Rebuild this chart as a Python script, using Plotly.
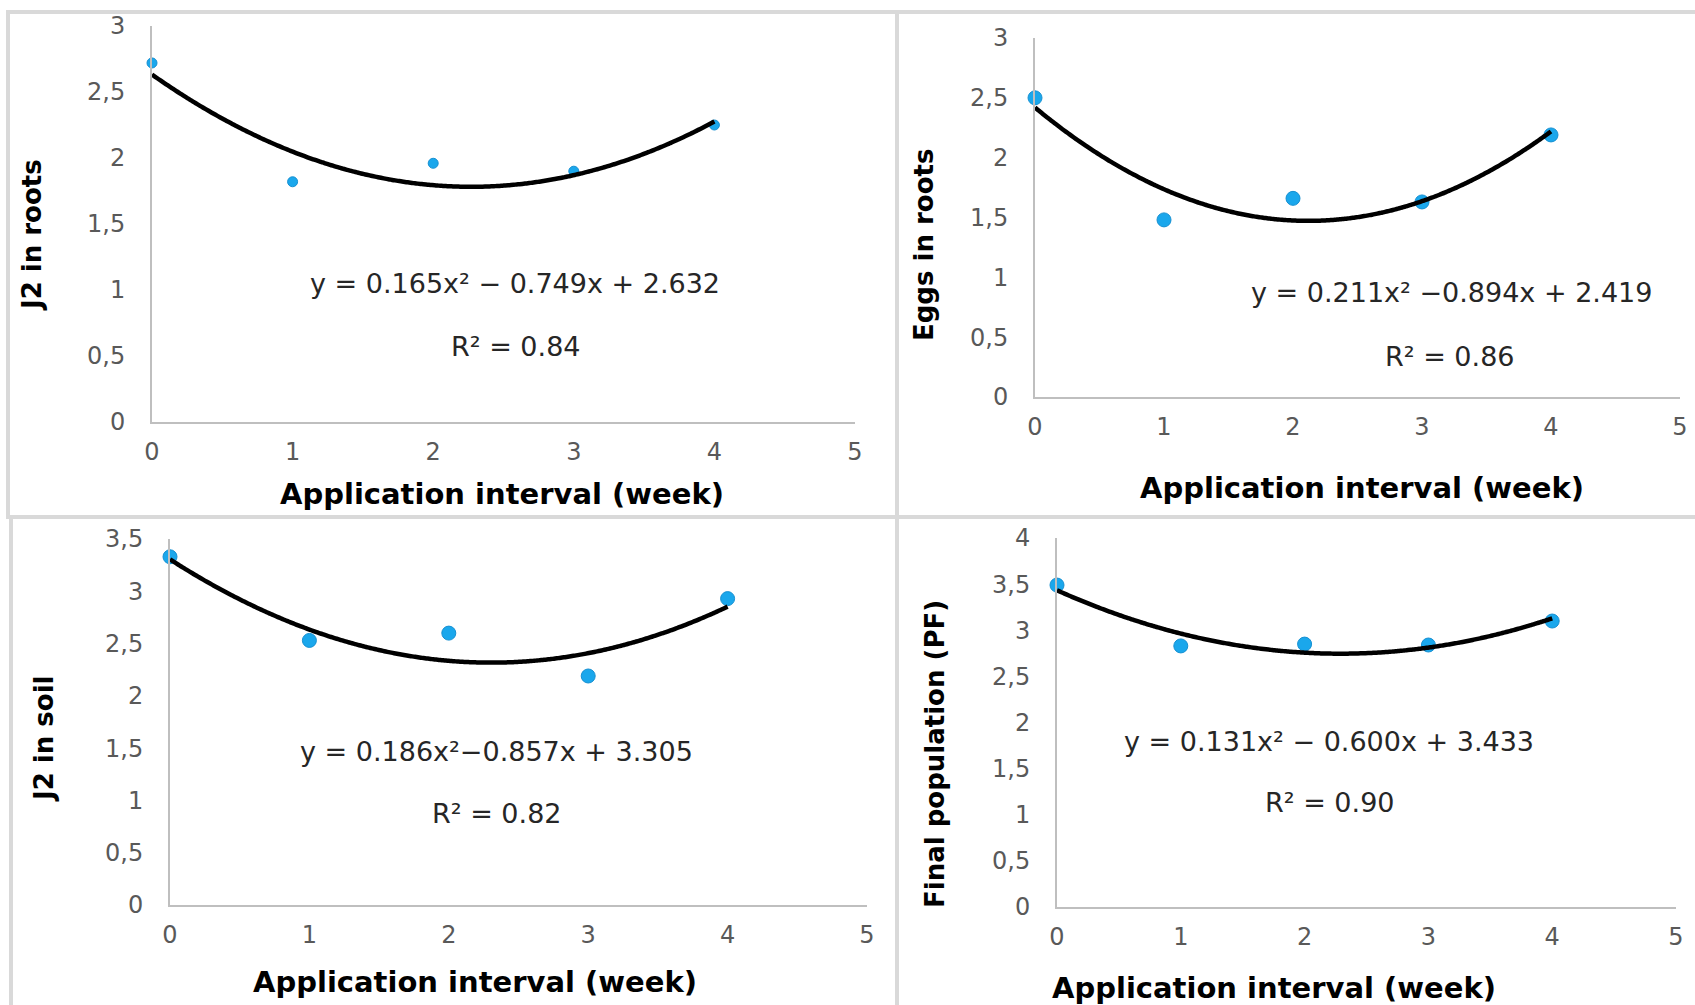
import numpy as np
import plotly.graph_objects as go

# ---------------- data ----------------
weeks = [0, 1, 2, 3, 4]
j2_roots = [2.72, 1.82, 1.96, 1.90, 2.25]
eggs_roots = [2.50, 1.48, 1.66, 1.63, 2.19]
j2_soil = [3.33, 2.53, 2.60, 2.19, 2.93]
final_pop = [3.49, 2.83, 2.85, 2.84, 3.10]

# quadratic trend coefficients (a, b, c) as printed on the chart
fit_j2_roots = [0.165, -0.749, 2.632]
fit_eggs_roots = [0.211, -0.894, 2.419]
fit_j2_soil = [0.186, -0.857, 3.305]
fit_final_pop = [0.131, -0.600, 3.433]

y_titles = ["J2 in roots", "Eggs in roots", "J2 in soil", "Final population (PF)"]
x_title = "Application interval (week)"
equations = [
    "y = 0.165x² − 0.749x + 2.632",
    "y = 0.211x² −0.894x + 2.419",
    "y = 0.186x²−0.857x + 3.305",
    "y = 0.131x² − 0.600x + 3.433",
]
r2_labels = ["R² = 0.84", "R² = 0.86", "R² = 0.82", "R² = 0.90"]
y_max = [3, 3, 3.5, 4]

# ---------------- layout geometry (pixels) ----------------
W, H = 1695, 1005
# plot areas: (x_left, x_right, y_top, y_bottom)
areas = [
    (152, 855, 26, 422),
    (1035, 1680, 38, 397),
    (170, 867, 539, 905),
    (1057, 1676, 538, 907),
]
marker_sizes = [10, 14, 14, 14]
eq_pos = [(515, 283), (1451, 293), (497, 751), (1329, 741)]
r2_pos = [(516, 346), (1450, 356), (497, 813), (1330, 802)]
ytitle_pos = [(32, 235), (924, 245), (44, 739), (935, 754)]
xtitle_pos = [(502, 494), (1362, 488), (475, 982), (1274, 988)]

def px(x):
    return x / W

def py(y):
    return 1 - y / H

series = [j2_roots, eggs_roots, j2_soil, final_pop]
fits = [fit_j2_roots, fit_eggs_roots, fit_j2_soil, fit_final_pop]

fig = go.Figure()
FONT = "DejaVu Sans"
annotations = []
layout_axes = {}

for i in range(4):
    xa = "x" if i == 0 else f"x{i+1}"
    ya = "y" if i == 0 else f"y{i+1}"
    fig.add_trace(go.Scatter(
        x=weeks, y=series[i], mode="markers", xaxis=xa, yaxis=ya,
        marker=dict(size=marker_sizes[i], color="#1AA7EC",
                    line=dict(color="#1690D2", width=1)),
        cliponaxis=False, showlegend=False, hoverinfo="x+y",
    ))
    a, b, c = fits[i]
    xs = np.linspace(min(weeks), max(weeks), 200)
    ys = a * xs ** 2 + b * xs + c
    fig.add_trace(go.Scatter(
        x=xs, y=ys, mode="lines", xaxis=xa, yaxis=ya,
        line=dict(color="#000000", width=4.5, shape="spline", smoothing=1),
        cliponaxis=False, showlegend=False, hoverinfo="skip",
    ))

    xl, xr, yt, yb = areas[i]
    xkey = "xaxis" if i == 0 else f"xaxis{i+1}"
    ykey = "yaxis" if i == 0 else f"yaxis{i+1}"
    layout_axes[xkey] = dict(
        domain=[px(xl), px(xr)], anchor=ya, range=[0, 5], dtick=1, tick0=0,
        showgrid=False, zeroline=False, showline=True, linecolor="#BFBFBF",
        linewidth=2, ticks="", ticklabelstandoff=7, automargin=False,
        tickfont=dict(family=FONT, size=24, color="#595959"), fixedrange=True,
    )
    layout_axes[ykey] = dict(
        domain=[py(yb), py(yt)], anchor=xa, range=[0, y_max[i]], dtick=0.5, tick0=0,
        showgrid=False, zeroline=False, showline=True, linecolor="#BFBFBF",
        linewidth=2, ticks="", ticklabelstandoff=20, automargin=False,
        tickfont=dict(family=FONT, size=24, color="#595959"), fixedrange=True,
    )

    annotations.append(dict(
        text=equations[i], x=px(eq_pos[i][0]), y=py(eq_pos[i][1]),
        xref="paper", yref="paper", showarrow=False, xanchor="center", yanchor="middle",
        font=dict(family=FONT, size=27, color="#262626"),
    ))
    annotations.append(dict(
        text=r2_labels[i], x=px(r2_pos[i][0]), y=py(r2_pos[i][1]),
        xref="paper", yref="paper", showarrow=False, xanchor="center", yanchor="middle",
        font=dict(family=FONT, size=27, color="#262626"),
    ))
    annotations.append(dict(
        text="<b>" + y_titles[i] + "</b>", x=px(ytitle_pos[i][0]), y=py(ytitle_pos[i][1]),
        xref="paper", yref="paper", showarrow=False, xanchor="center", yanchor="middle",
        textangle=-90, font=dict(family=FONT, size=26, color="#000000"),
    ))
    annotations.append(dict(
        text="<b>" + x_title + "</b>", x=px(xtitle_pos[i][0]), y=py(xtitle_pos[i][1]),
        xref="paper", yref="paper", showarrow=False, xanchor="center", yanchor="middle",
        font=dict(family=FONT, size=29, color="#000000"),
    ))

frame = dict(type="rect", xref="paper", yref="paper",
             line=dict(color="#D9D9D9", width=4), fillcolor="rgba(0,0,0,0)", layer="below")
shapes = [
    dict(frame, x0=px(8), x1=px(897), y0=py(12), y1=py(517)),
    dict(frame, x0=px(897), x1=px(1710), y0=py(12), y1=py(517)),
    dict(frame, x0=px(11), x1=px(897), y0=py(517), y1=py(1020)),
    dict(frame, x0=px(897), x1=px(1710), y0=py(517), y1=py(1020)),
]

fig.update_layout(
    width=W, height=H, margin=dict(l=0, r=0, t=0, b=0, pad=0, autoexpand=False),
    paper_bgcolor="white", plot_bgcolor="white",
    separators=", ", showlegend=False,
    annotations=annotations, shapes=shapes,
    **layout_axes,
)

fig.write_html("out.html", config={"displayModeBar": False},
               post_script="document.body.style.margin='0';document.documentElement.style.overflow='hidden';")
